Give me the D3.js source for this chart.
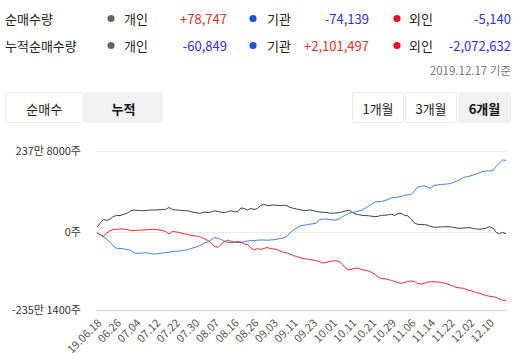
<!DOCTYPE html>
<html><head><meta charset="utf-8">
<script src="https://cdn.jsdelivr.net/npm/d3@7"></script>
<style>
body{margin:0;background:#fff;}
svg{display:block;font-family:"Noto Sans CJK KR","Noto Sans",sans-serif;}
</style>
</head><body>
<svg id="c" width="528" height="364"></svg>
<script>
// ---- data (values in 만주 = 10,000 shares) ----
const dates = [
"06.18","06.19","06.20","06.21","06.24","06.25","06.26","06.27","06.28",
"07.01","07.02","07.03","07.04","07.05","07.08","07.09","07.10","07.11","07.12","07.15","07.16","07.17","07.18","07.19","07.22","07.23","07.24","07.25","07.26","07.29","07.30","07.31",
"08.01","08.02","08.05","08.06","08.07","08.08","08.09","08.12","08.13","08.14","08.16","08.19","08.20","08.21","08.22","08.23","08.26","08.27","08.28","08.29","08.30",
"09.02","09.03","09.04","09.05","09.06","09.09","09.10","09.11","09.16","09.17","09.18","09.19","09.20","09.23","09.24","09.25","09.26","09.27","09.30",
"10.01","10.02","10.04","10.07","10.08","10.10","10.11","10.14","10.15","10.16","10.17","10.18","10.21","10.22","10.23","10.24","10.25","10.28","10.29","10.30","10.31",
"11.01","11.04","11.05","11.06","11.07","11.08","11.11","11.12","11.13","11.14","11.15","11.18","11.19","11.20","11.21","11.22","11.25","11.26","11.27","11.28","11.29",
"12.02","12.03","12.04","12.05","12.06","12.09","12.10","12.11","12.12","12.13","12.16","12.17"];
const tickDates = ["06.18","06.26","07.04","07.12","07.22","07.30","08.07","08.16","08.26","09.03","09.11","09.23","10.01","10.11","10.21","10.29","11.06","11.14","11.22","12.02","12.10"];
const tickLabels = ["19.06.18","06.26","07.04","07.12","07.22","07.30","08.07","08.16","08.26","09.03","09.11","09.23","10.01","10.11","10.21","10.29","11.06","11.14","11.22","12.02","12.10"];

const individual = [13.0,25.6,36.0,33.0,37.4,44.8,47.7,47.7,50.7,53.6,59.5,64.0,63.1,62.5,61.9,62.5,63.4,64.0,64.0,64.8,65.4,66.0,71.3,65.4,64.0,63.4,62.5,61.9,61.0,58.1,56.6,54.2,55.1,58.1,56.0,58.1,61.6,59.5,57.5,56.0,59.5,61.6,58.9,58.9,69.8,68.4,64.0,68.4,65.4,68.4,77.2,80.7,77.2,77.2,78.7,77.8,77.2,77.8,76.6,71.3,69.0,66.9,64.8,63.1,61.9,64.5,62.5,59.5,58.1,57.2,56.6,55.1,54.2,55.1,56.6,58.9,61.0,64.0,56.6,52.2,50.1,48.3,47.7,46.9,45.7,44.2,45.7,48.6,48.3,49.8,51.3,47.7,53.6,54.2,47.7,46.9,37.4,25.6,21.8,21.2,20.6,19.7,15.3,13.0,13.3,14.4,14.4,14.7,14.4,12.4,10.9,10.0,10.9,11.5,11.8,9.4,8.0,7.1,8.5,10.9,14.7,10.9,-1.8,-6.0,-2.4,-6.08];
const institution = [-3.0,-9.9,-16.0,-23.5,-31.1,-43.1,-50.0,-50.7,-51.3,-53.7,-55.2,-61.2,-65.1,-65.1,-64.2,-63.6,-65.1,-66.6,-67.2,-65.7,-64.2,-63.3,-62.1,-59.7,-59.1,-58.2,-57.3,-55.8,-53.7,-50.0,-47.0,-44.0,-38.6,-33.2,-31.1,-23.5,-17.5,-20.5,-23.5,-29.5,-32.6,-33.2,-32.6,-32.6,-32.6,-30.2,-28.0,-27.1,-26.5,-25.6,-25.0,-25.0,-25.6,-25.0,-24.1,-22.9,-20.5,-19.0,-14.5,-3.9,5.0,10.9,16.8,18.9,20.3,22.1,23.3,24.8,36.0,36.8,37.4,36.0,34.5,34.5,37.4,44.2,49.2,54.2,56.6,58.9,61.0,64.0,69.8,75.7,81.6,88.4,88.4,89.0,91.9,94.9,100.2,100.8,102.3,103.7,107.6,108.2,109.6,119.9,131.7,133.2,135.6,131.7,127.9,136.2,137.6,139.1,139.7,140.6,142.0,145.0,149.4,153.8,160.3,161.8,164.1,167.1,170.6,174.5,177.4,178.9,178.9,180.4,193.6,202.5,211.3,210.15];
const foreign = [-3.0,-9.9,-13.0,-3.9,2.9,6.5,7.1,8.0,8.0,6.5,4.1,2.9,4.1,5.0,5.0,5.6,6.5,7.1,6.5,5.0,3.5,0.6,-6.9,0.6,-0.3,-2.4,-4.8,-6.9,-9.3,-11.5,-13.0,-14.5,-17.5,-22.0,-27.1,-35.6,-44.6,-47.0,-37.1,-29.5,-25.0,-29.5,-31.1,-29.5,-31.1,-37.1,-38.6,-49.1,-55.2,-50.7,-53.7,-50.7,-47.6,-50.7,-52.2,-53.7,-58.2,-62.7,-63.6,-67.2,-71.8,-74.8,-77.8,-80.8,-82.3,-83.2,-85.3,-87.4,-89.8,-94.4,-92.9,-89.8,-88.3,-87.7,-89.8,-98.9,-109.4,-115.5,-112.5,-110.3,-111.0,-114.0,-117.0,-118.5,-123.0,-129.0,-138.1,-141.1,-142.0,-144.1,-147.1,-150.1,-153.2,-155.6,-153.2,-150.1,-148.6,-150.1,-156.2,-157.7,-156.2,-151.7,-151.1,-150.8,-151.7,-152.6,-154.7,-157.7,-160.7,-165.2,-168.2,-169.7,-170.6,-174.3,-177.3,-180.3,-183.3,-185.7,-189.3,-192.4,-194.8,-196.0,-198.4,-203.0,-207.0,-207.26];

const yTickValues = [237.8, 0, -235.14];
const yTickLabels = ["237만 8000주", "0주", "-235만 1400주"];

const summaryRowNames = ["순매수량", "누적순매수량"];
const investorNames = ["개인", "기관", "외인"];
const dailyNet = ["+78,747", "-74,139", "-5,140"];
const cumulativeNet = ["-60,849", "+2,101,497", "-2,072,632"];
const baseDate = "2019.12.17 기준";
const modeTabs = ["순매수", "누적"];
const periodTabs = ["1개월", "3개월", "6개월"];

// ---- drawing ----
const svg = d3.select("#c");
const dotColors = ["#666666", "#1f52d6", "#e8101e"];
const lineColors = ["#34404b", "#3f7fe3", "#f0282d"];
const posColor = "#e2312c", negColor = "#3131de";

// summary header
const rowsY = [18.5, 45.5];
const dotX = [111, 253, 397], nameX = [124, 267, 409], valEndX = [227, 369, 511];
[dailyNet, cumulativeNet].forEach((vals, r) => {
  svg.append("text").attr("x", 5).attr("y", rowsY[r]).attr("dominant-baseline", "central")
    .attr("font-size", 13).attr("fill", "#222").text(summaryRowNames[r]);
  vals.forEach((v, k) => {
    svg.append("circle").attr("cx", dotX[k]).attr("cy", rowsY[r]).attr("r", 3.6).attr("fill", dotColors[k]);
    svg.append("text").attr("x", nameX[k]).attr("y", rowsY[r]).attr("dominant-baseline", "central")
      .attr("font-size", 13).attr("fill", "#222").text(investorNames[k]);
    svg.append("text").attr("x", valEndX[k]).attr("y", rowsY[r]).attr("dominant-baseline", "central")
      .attr("text-anchor", "end").attr("font-size", 13)
      .attr("fill", v.startsWith("+") ? posColor : negColor).text(v);
  });
});
svg.append("text").attr("x", 511).attr("y", 69.5).attr("dominant-baseline", "central")
  .attr("text-anchor", "end").attr("font-size", 11.5).attr("fill", "#777").text(baseDate);

// tabs
function tab(x, w, label, active) {
  svg.append("rect").attr("x", x + 0.5).attr("y", 92.5).attr("width", w - 1).attr("height", 30)
    .attr("rx", 2).attr("fill", active ? "#f1f1f1" : "#fff").attr("stroke", active ? "#f1f1f1" : "#e9e9e9");
  svg.append("text").attr("x", x + w / 2).attr("y", 108).attr("dominant-baseline", "central")
    .attr("text-anchor", "middle").attr("font-size", 13).attr("font-weight", active ? "bold" : "normal")
    .attr("fill", active ? "#111" : "#222").text(label);
}
tab(5, 78.5, modeTabs[0], false);
tab(84, 79, modeTabs[1], true);
tab(352, 52, periodTabs[0], false);
tab(405, 52, periodTabs[1], false);
tab(458, 53, periodTabs[2], true);

// chart
const x = d3.scalePoint().domain(dates).range([97, 506]);
const y = d3.scaleLinear().domain([-235.14, 0, 237.8]).range([309.7, 231.7, 151]);
const plotL = 96, plotR = 507;

const grid = svg.append("g");
grid.selectAll("line").data(yTickValues).join("line")
  .attr("x1", plotL).attr("x2", plotR)
  .attr("y1", d => Math.round(y(d)) + 0.5).attr("y2", d => Math.round(y(d)) + 0.5)
  .attr("stroke", (d, i) => i === 2 ? "#ccd6eb" : "#ececec").attr("stroke-width", 1);

const yAxis = svg.append("g").attr("transform", "translate(81,0)")
  .call(d3.axisLeft(y).tickValues(yTickValues).tickSize(0).tickPadding(0)
    .tickFormat((d, i) => yTickLabels[i]));
yAxis.select(".domain").remove();
yAxis.selectAll("text").attr("font-size", 11).attr("fill", "#333")
  .attr("font-family", '"Noto Sans CJK KR",sans-serif');

const xAxis = svg.append("g").attr("transform", "translate(0,310)")
  .call(d3.axisBottom(x).tickValues(tickDates).tickSize(0).tickFormat((d, i) => tickLabels[i]));
xAxis.select(".domain").remove();
xAxis.selectAll("text").attr("font-size", 11).attr("fill", "#555")
  .attr("text-anchor", "end").attr("x", 0).attr("y", 0).attr("dy", "0.35em")
  .attr("transform", "translate(2,11) rotate(-45)")
  .attr("font-family", '"Noto Sans CJK KR",sans-serif');

const line = d3.line().x((d, i) => x(dates[i])).y(d => y(d));
[individual, institution, foreign].forEach((s, k) => {
  svg.append("path").datum(s).attr("d", line).attr("fill", "none")
    .attr("stroke", lineColors[k]).attr("stroke-width", 1).attr("stroke-linejoin", "round");
});
</script>
</body></html>
